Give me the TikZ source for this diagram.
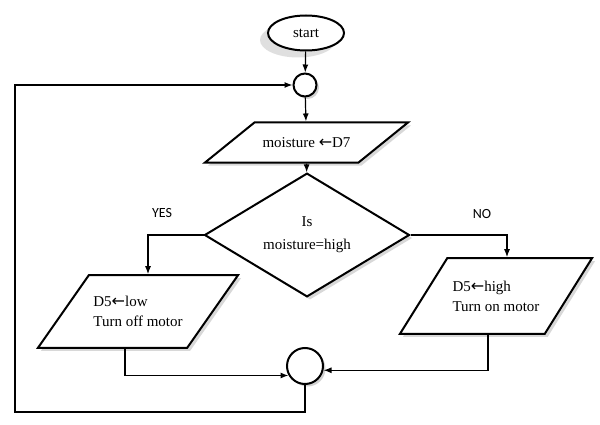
\documentclass[tikz,border=0pt]{standalone}
\usepackage{fontspec}
\setmainfont{Liberation Serif}
\newfontfamily\yesnofont{Carlito}
\newfontfamily\arrowfont{DejaVu Sans}
\newcommand{\getsarrow}{{\arrowfont\fontsize{16}{20}\selectfont ←}}
\usepackage{tikz}
\usetikzlibrary{shapes.geometric,shadows,arrows.meta}

\begin{document}
\begin{tikzpicture}[x=1pt, y=-1pt, ->, >={Latex[length=8pt,width=6pt]}, line width=1.2pt, font=\fontsize{15}{20}\selectfont]
      \tikzstyle{block}=[draw=black, fill=white, line width=2pt, inner sep=0pt]
      \tikzstyle{terminal}=[block, ellipse, minimum width=76pt, minimum height=35pt, drop shadow={shadow xshift=-8pt, shadow yshift=-7pt, fill=gray!50}]
      \tikzstyle{joint}=[block, circle, drop shadow={shadow xshift=2.5pt, shadow yshift=-2.5pt, fill=gray!70}]
      \tikzstyle{io}=[block, trapezium, trapezium stretches body, inner xsep=0pt, align=left, drop shadow={shadow xshift=3pt, shadow yshift=-3pt, fill=gray!60}]
      \tikzstyle{decision}=[block, diamond, align=center, drop shadow={shadow xshift=3pt, shadow yshift=-3pt, fill=gray!60}]
      \tikzstyle{branch}=[font=\yesnofont\fontsize{14}{16}\selectfont]

      \useasboundingbox (0,0) rectangle (600,425);

      \node[terminal] (start) at (306,33) {start};
      \node[joint, minimum size=23pt] (merge top) at (305,85) {};
      \node[io, trapezium left angle=39, trapezium right angle=141, minimum width=203pt, inner ysep=15pt] (read) at (306.5,142.5) {moisture \getsarrow D7};
      \node[decision, minimum width=205pt, minimum height=93pt] (check) at (307,235) {Is\\[3pt]moisture=high};
      \node[io, trapezium left angle=55, trapezium right angle=125, minimum width=200pt, inner ysep=21pt] (motor off) at (138,311.5) {D5\getsarrow low\\Turn off motor};
      \node[io, trapezium left angle=58, trapezium right angle=122, minimum width=192pt, inner ysep=22.5pt] (motor on) at (496,296) {D5\getsarrow high\\Turn on motor};
      \node[joint, minimum size=36pt] (merge bottom) at (305,366) {};
      \node[branch] (yes) at (162,213) {YES};
      \node[branch] (no) at (482,214) {NO};
      \coordinate (back) at (15,412);

      \path (start) edge (merge top);
      \path (merge top) edge (read);
      \path (read) edge (check);
      \draw (check.west) -| ([xshift=10pt]motor off.north);
      \draw (check.east) -| ([xshift=11pt]motor on.north);
      \draw ([xshift=-13pt]motor off.south) |- (merge bottom.210);
      \draw ([xshift=-8pt]motor on.south) |- (merge bottom.347);
      \draw (merge bottom.south) |- (back) |- (merge top.west);
\end{tikzpicture}
\end{document}
